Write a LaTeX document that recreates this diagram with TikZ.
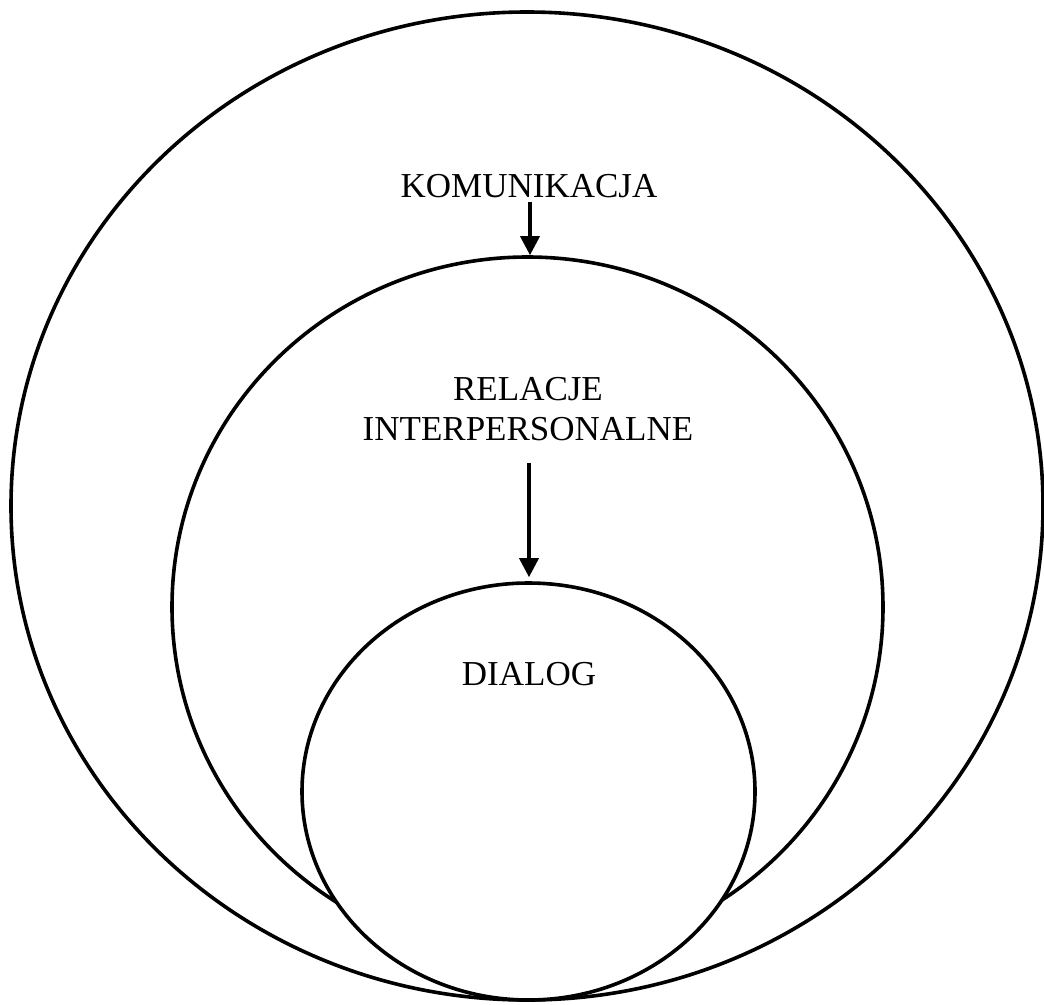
\documentclass[tikz,border=0pt]{standalone}
\usepackage{fontspec}
\setmainfont{Liberation Serif}
\usetikzlibrary{shapes.geometric,arrows.meta}
\tikzset{
  ring/.style={draw=black, line width=3.6pt, ellipse, inner sep=0pt},
  lbl/.style={anchor=base, inner sep=0pt, font=\fontsize{35}{42}\selectfont},
  arr/.style={line width=3.6pt, -{Triangle[width=19pt,length=19pt]}}
}
\begin{document}
\begin{tikzpicture}[x=1pt,y=-1pt]
\useasboundingbox (0,0) rectangle (1044,1004);
\node[ring, minimum width=1032pt, minimum height=988pt] (outer) at (527,506) {};
\node[ring, minimum width=711pt, minimum height=700pt] (middle) at (527.5,607) {};
\node[ring, fill=white, minimum width=453pt, minimum height=417pt] (inner) at (528.5,791.5) {};
\node[lbl] (kom) at (529,197) {KOMUNIKACJA};
\node[lbl] (rel1) at (528,400) {RELACJE};
\node[lbl] (rel2) at (528,440) {INTERPERSONALNE};
\node[lbl] (dia) at (529,685) {DIALOG};
\coordinate (a1) at (530,202);
\coordinate (a2) at (529,463);
\draw[arr] (a1) -- (a1 |- middle.north);
\draw[arr, shorten >=4pt] (a2) -- (a2 |- inner.north);
\end{tikzpicture}
\end{document}
